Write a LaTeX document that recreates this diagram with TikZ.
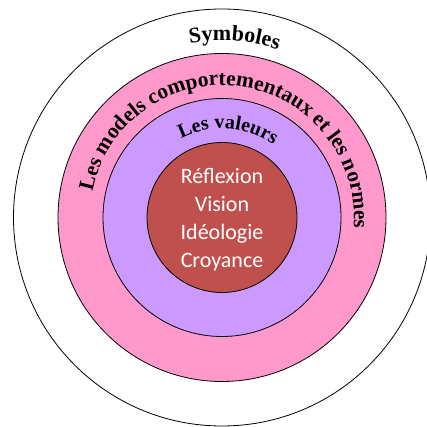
\documentclass[tikz,border=0pt]{standalone}
\usepackage{fontspec}
\setmainfont{Liberation Serif}
\newfontfamily\calibri{Carlito}
\usetikzlibrary{positioning}
\usetikzlibrary{decorations.text}
\definecolor{ringPink}{HTML}{FF99CC}
\definecolor{ringPurple}{HTML}{CC99FF}
\definecolor{coreRed}{HTML}{C0504D}
\tikzset{
    ring/.style={circle,draw,line width=0.8pt,inner sep=0pt},
}

\begin{document}
\begin{tikzpicture}[x=1pt,y=1pt]
  \useasboundingbox (0,0) rectangle (426,427);
  \coordinate (C) at (222,209.5);
  % the four rings, outside in
  \node[ring,fill=white,minimum size=417pt] (symb) at (C) {};
  \node[ring,fill=ringPink,minimum size=328pt] (norms) at (C) {};
  \node[ring,fill=ringPurple,minimum size=238pt] (vals) at (C) {};
  \node[ring,fill=coreRed,minimum size=150pt] (core) at (C) {};
  \node[text=white,align=center,font=\calibri\fontsize{22}{28}\selectfont] (coreText) at ([yshift=-2pt]core.center) {Réflexion\\Vision\\Idéologie\\Croyance};

  % curved labels
  \path[decorate,decoration={text along path,text align=center,
      text={|\bfseries\fontsize{22}{22}\selectfont|Symboles}}]
    ([shift={(116:177)}]C) arc[start angle=116,end angle=56,radius=177];
  \path[decorate,decoration={text along path,text align=center,
      text={|\bfseries\fontsize{21.5}{21.5}\selectfont|Les models comportementaux et les normes}}]
    ([shift={(168:132)}]C) arc[start angle=168,end angle=-4,radius=132];
  \path[decorate,decoration={text along path,text align=center,
      text={|\bfseries\fontsize{20}{20}\selectfont|Les valeurs}}]
    ([shift={(132:89)}]C) arc[start angle=132,end angle=40,radius=89];
\end{tikzpicture}
\end{document}
